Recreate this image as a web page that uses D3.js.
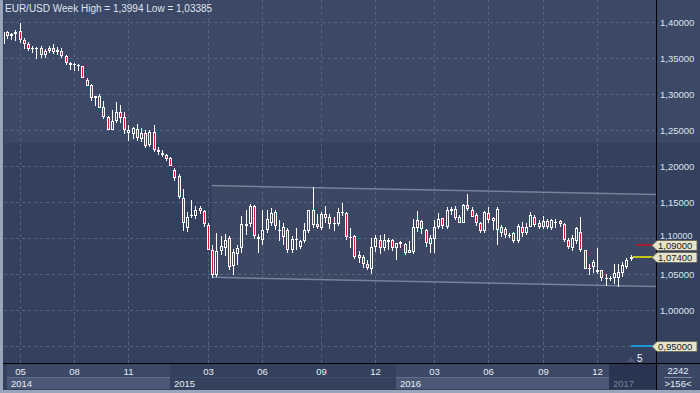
<!DOCTYPE html>
<html>
<head>
<meta charset="utf-8">
<script src="https://cdn.jsdelivr.net/npm/d3@7/dist/d3.min.js"></script>
<style>
html, body { margin: 0; padding: 0; background: #34415e; }
svg { display: block; font-family: "Liberation Sans", Arial, sans-serif; }
</style>
</head>
<body>
<svg id="chart" width="700" height="393"></svg>
<script>
// weekly EUR/USD candles (index 0 = first visible week, Apr 2014)
var opens = [1.3700,1.3861,1.3805,1.3833,1.3875,1.3750,1.3694,1.3632,1.3638,1.3645,
  1.3543,1.3605,1.3645,1.3611,1.3600,1.3535,1.3428,1.3422,1.3400,1.3389,
  1.3194,1.3130,1.2954,1.2981,1.2824,1.2685,1.2509,1.2630,1.2750,1.2685,
  1.2456,1.2454,1.2519,1.2380,1.2463,1.2296,1.2472,1.2231,1.2185,1.2157,
  1.2111,1.1954,1.1870,1.1565,1.1139,1.1306,1.1315,1.1417,1.1380,1.1185,
  1.0833,1.0491,1.0824,1.0861,1.1009,1.0611,1.0787,1.0861,1.1176,1.1204,
  1.1454,1.1019,1.0981,1.1120,1.1213,1.1370,1.1111,1.1019,1.1120,1.0833,
  1.0991,1.0880,1.0963,1.1102,1.1398,1.1194,1.1139,1.1343,1.1301,1.1194,
  1.1194,1.1350,1.1356,1.1023,1.1032,1.0722,1.0741,1.0648,1.0579,1.0877,
  1.0977,1.0861,1.0977,1.0977,1.0861,1.0954,1.0921,1.0792,1.0815,1.1139,
  1.1241,1.1116,1.0921,1.0991,1.1162,1.1278,1.1153,1.1384,1.1403,1.1301,
  1.1218,1.1463,1.1394,1.1324,1.1218,1.1106,1.1356,1.1278,1.1116,1.1153,
  1.1125,1.1046,1.1069,1.0968,1.1162,1.1079,1.1162,1.1301,1.1208,1.1153,
  1.1245,1.1139,1.1231,1.1236,1.1199,1.0977,1.0861,1.0968,1.1093,1.0838,
  1.0593,1.0597,1.0532,1.0555,1.0450,1.0445,1.0444,1.0453,1.0514,1.0597,
  1.0708];
var highs = [1.3880,1.3880,1.3847,1.3894,1.3994,1.3778,1.3731,1.3676,1.3660,1.3667,
  1.3630,1.3667,1.3694,1.3657,1.3639,1.3546,1.3454,1.3435,1.3417,1.3398,
  1.3222,1.3148,1.2981,1.3000,1.2907,1.2704,1.2787,1.2889,1.2852,1.2759,
  1.2574,1.2546,1.2593,1.2537,1.2509,1.2500,1.2574,1.2269,1.2222,1.2176,
  1.2130,1.1981,1.1889,1.1685,1.1370,1.1537,1.1444,1.1454,1.1398,1.1213,
  1.0907,1.1074,1.1028,1.1056,1.1037,1.0852,1.0907,1.1306,1.1398,1.1481,
  1.1460,1.1056,1.1389,1.1398,1.1426,1.1398,1.1250,1.1213,1.1139,1.1028,
  1.1139,1.0981,1.1213,1.1398,1.1713,1.1343,1.1361,1.1449,1.1338,1.1292,
  1.1417,1.1490,1.1370,1.1139,1.1046,1.0824,1.0769,1.0699,1.1000,1.1046,
  1.1046,1.1060,1.1000,1.0991,1.0940,1.0968,1.0931,1.0965,1.1264,1.1384,
  1.1255,1.1125,1.1046,1.1255,1.1347,1.1285,1.1440,1.1440,1.1449,1.1324,
  1.1472,1.1616,1.1440,1.1356,1.1231,1.1384,1.1440,1.1301,1.1440,1.1185,
  1.1153,1.1069,1.1093,1.1194,1.1231,1.1208,1.1361,1.1324,1.1255,1.1315,
  1.1269,1.1264,1.1269,1.1255,1.1208,1.1000,1.1046,1.1153,1.1292,1.0840,
  1.0644,1.0699,1.0870,1.0560,1.0500,1.0470,1.0650,1.0640,1.0666,1.0720,
  1.0764];
var lows = [1.3694,1.3787,1.3769,1.3759,1.3731,1.3645,1.3611,1.3593,1.3503,1.3520,
  1.3520,1.3583,1.3575,1.3565,1.3519,1.3417,1.3352,1.3343,1.3343,1.3222,
  1.3111,1.2917,1.2852,1.2806,1.2667,1.2500,1.2500,1.2611,1.2611,1.2463,
  1.2361,1.2389,1.2370,1.2352,1.2269,1.2278,1.2213,1.2167,1.2139,1.2093,
  1.2000,1.1815,1.1565,1.1120,1.1102,1.1296,1.1278,1.1352,1.1176,1.0833,
  1.0463,1.0472,1.0787,1.0769,1.0574,1.0509,1.0639,1.0815,1.1056,1.1176,
  1.1009,1.0815,1.0917,1.1083,1.1185,1.1130,1.0972,1.0917,1.0815,1.0806,
  1.0852,1.0861,1.0944,1.1093,1.1157,1.1139,1.1130,1.1231,1.1139,1.1116,
  1.1185,1.1330,1.0991,1.0884,1.0722,1.0667,1.0606,1.0570,1.0514,1.0829,
  1.0792,1.0838,1.0852,1.0838,1.0708,1.0880,1.0782,1.0790,1.0801,1.1100,
  1.1067,1.0890,1.0815,1.0815,1.1140,1.1144,1.1144,1.1338,1.1269,1.1208,
  1.1208,1.1394,1.1292,1.1185,1.1093,1.1093,1.1231,1.1130,1.0921,1.1037,
  1.1023,1.1023,1.0944,1.0954,1.1037,1.1060,1.1153,1.1176,1.1139,1.1139,
  1.1148,1.1130,1.1153,1.1171,1.0968,1.0861,1.0838,1.0940,1.0829,1.0569,
  1.0505,1.0537,1.0514,1.0421,1.0352,1.0420,1.0380,1.03385,1.0481,1.0585,
  1.0699];
var closes = [1.3870,1.3806,1.3835,1.3861,1.3750,1.3694,1.3630,1.3638,1.3645,1.3543,
  1.3605,1.3645,1.3592,1.3585,1.3528,1.3428,1.3412,1.3400,1.3405,1.3231,
  1.3120,1.2944,1.2972,1.2815,1.2685,1.2509,1.2630,1.2750,1.2667,1.2509,
  1.2498,1.2528,1.2389,1.2463,1.2278,1.2472,1.2222,1.2194,1.2157,1.2102,
  1.2009,1.1833,1.1574,1.1213,1.1296,1.1324,1.1389,1.1380,1.1194,1.0843,
  1.0491,1.0824,1.0898,1.0981,1.0602,1.0815,1.0870,1.1204,1.1204,1.1454,
  1.1028,1.0991,1.1111,1.1269,1.1352,1.1167,1.1120,1.1157,1.0833,1.0991,
  1.0975,1.0963,1.1120,1.1398,1.1185,1.1157,1.1343,1.1287,1.1194,1.1208,
  1.1370,1.1370,1.1014,1.1000,1.0741,1.0769,1.0648,1.0593,1.0877,1.1000,
  1.0861,1.0977,1.0954,1.0861,1.0931,1.0921,1.0792,1.0838,1.1162,1.1255,
  1.1125,1.0931,1.1000,1.1162,1.1269,1.1171,1.1394,1.1403,1.1278,1.1218,
  1.1463,1.1403,1.1301,1.1208,1.1106,1.1370,1.1255,1.1245,1.1403,1.1069,
  1.1046,1.1030,1.0968,1.1171,1.1069,1.1162,1.1324,1.1185,1.1153,1.1245,
  1.1162,1.1255,1.1224,1.1199,1.0977,1.0875,1.1000,1.1139,1.0838,1.0579,
  1.0579,1.0676,1.0560,1.0444,1.0455,1.0452,1.0518,1.0528,1.0629,1.0699,
  1.0740];

var monthLabels = ["05","08","11","03","06","09","12","03","06","09","12"];
var monthIdx    = [4, 17, 30, 49, 62, 76, 89, 103, 116, 129, 142];
var yearLabels  = ["2014","2015","2016","2017"];
var yearIdx     = [0, 40, 94, 145];
var priceTicks  = [1.00,1.05,1.10,1.15,1.20,1.25,1.30,1.35,1.40];
var gridTicks   = [0.95,1.00,1.05,1.10,1.15,1.20,1.25,1.30,1.35,1.40];
var markerValues = [1.09, 1.074, 0.95];
var markerColors = ["#a3202c", "#f2f200", "#1c98d8"];
var markerStart  = [151.2, 150.4, 150.0];
var channelIdx   = [49.8, 156];
var channelUpper = [1.1733, 1.1608];
var channelLower = [1.0458, 1.0330];
var shadeFrom = 1.2324;   // lighter zone above this level
var titleText = "EUR/USD Week High = 1,3994 Low = 1,03385";

var W = 700, H = 393;
var plotL = 4, plotR = 656, plotB = 363;

var x = d3.scaleLinear().domain([0, 150]).range([3.4, 631.15]);
var y = d3.scaleLinear().domain([0.95, 1.40]).range([346.3, 22.3]);
var fmt = function(v) { return d3.format(".5f")(v).replace(".", ","); };

var svg = d3.select("#chart");

svg.append("rect").attr("width", W).attr("height", H).attr("fill", "#34415e");
svg.append("rect").attr("x", plotL).attr("y", 0).attr("width", W - plotL)
   .attr("height", Math.round(y(shadeFrom))).attr("fill", "#3c4966");

svg.append("defs").append("clipPath").attr("id", "plotClip")
   .append("rect").attr("x", plotL).attr("y", 0).attr("width", plotR - plotL).attr("height", plotB);

var plot = svg.append("g").attr("clip-path", "url(#plotClip)");

// channel shading
var chPts = [[x(channelIdx[0]), y(channelUpper[0])], [x(channelIdx[1]), y(channelUpper[1])],
             [x(channelIdx[1]), y(channelLower[1])], [x(channelIdx[0]), y(channelLower[0])]];
plot.append("polygon").attr("points", chPts.map(function(p) { return p.join(","); }).join(" "))
    .attr("fill", "#ffffff").attr("fill-opacity", 0.035);

// grid
var grid = plot.append("g").attr("stroke", "#56647f").attr("stroke-dasharray", "3,3")
    .attr("shape-rendering", "crispEdges");
gridTicks.forEach(function(v) {
  var yy = Math.round(y(v)) + 0.5;
  grid.append("line").attr("x1", plotL).attr("x2", plotR).attr("y1", yy).attr("y2", yy);
});
monthIdx.forEach(function(i) {
  var xx = Math.floor(x(i)) + 0.5;
  grid.append("line").attr("x1", xx).attr("x2", xx).attr("y1", 0).attr("y2", plotB);
});

// channel lines
[channelUpper, channelLower].forEach(function(c) {
  plot.append("line").attr("x1", x(channelIdx[0])).attr("y1", y(c[0]))
      .attr("x2", x(channelIdx[1])).attr("y2", y(c[1]))
      .attr("stroke", "#8592aa").attr("stroke-width", 1.5).attr("stroke-opacity", 0.8);
});

// candles
var candles = d3.range(opens.length).map(function(i) {
  return { i: i, o: opens[i], h: highs[i], l: lows[i], c: closes[i] };
});
var cg = plot.append("g").attr("shape-rendering", "crispEdges");
candles.forEach(function(d) {
  var left = Math.floor(x(d.i)) - 1;
  var wx = left + 1.5;
  var top = Math.round(y(Math.max(d.o, d.c)));
  var bot = Math.round(y(Math.min(d.o, d.c)));
  var hy = Math.round(y(d.h)), ly = Math.round(y(d.l));
  var up = d.c >= d.o;
  if (hy < top) cg.append("line").attr("x1", wx).attr("x2", wx).attr("y1", hy).attr("y2", top).attr("stroke", "#fff");
  if (ly > bot) cg.append("line").attr("x1", wx).attr("x2", wx).attr("y1", bot).attr("y2", ly + 1).attr("stroke", "#fff");
  if (bot - top < 3) {
    cg.append("rect").attr("x", left).attr("y", top).attr("width", 3)
      .attr("height", Math.max(bot - top, 1)).attr("fill", "#fff");
  } else {
    cg.append("rect").attr("x", left + 0.5).attr("y", top + 0.5).attr("width", 2)
      .attr("height", bot - top - 1)
      .attr("fill", up ? "none" : "#e3112e").attr("stroke", "#fff");
  }
});

// price marker lines
markerValues.forEach(function(v, k) {
  var yy = Math.round(y(v));
  plot.append("line").attr("x1", x(markerStart[k])).attr("x2", plotR).attr("y1", yy).attr("y2", yy)
      .attr("stroke", markerColors[k]).attr("stroke-width", k === 1 ? 1.5 : 2);
});

// small "5" marker
plot.append("path").attr("d", "M627,362 L631,357 L635,362 Z").attr("fill", "#4d586f");
svg.append("text").attr("x", 637).attr("y", 362).attr("fill", "#eef2f8")
   .attr("font-size", 10).text("5");

// time axis background
var axG = svg.append("g").attr("shape-rendering", "crispEdges");
axG.append("rect").attr("x", plotL).attr("y", plotB).attr("width", plotR - plotL).attr("height", 26).attr("fill", "#34415d");
yearIdx.forEach(function(i, k) {
  var x0 = Math.max(Math.round(x(i)) - 1, 7);
  var x1 = k < yearIdx.length - 1 ? Math.round(x(yearIdx[k + 1])) - 1 : plotR;
  var last = k === yearIdx.length - 1;
  var even = k % 2 === 0;
  if (last) {
    axG.append("rect").attr("x", x0).attr("y", plotB + 1).attr("width", x1 - x0).attr("height", 25).attr("fill", "#293550");
  } else if (even) {
    axG.append("rect").attr("x", x0).attr("y", plotB + 1).attr("width", x1 - x0).attr("height", 13).attr("fill", "#3c4966");
    axG.append("rect").attr("x", x0).attr("y", 377).attr("width", x1 - x0).attr("height", 12).attr("fill", "#4a5876");
    axG.append("line").attr("x1", x0).attr("x2", x1).attr("y1", 377.5).attr("y2", 377.5).attr("stroke", "#5f6e8a");
  } else {
    axG.append("line").attr("x1", x0).attr("x2", x1).attr("y1", 377.5).attr("y2", 377.5).attr("stroke", "#3d4a66");
  }
  svg.append("text").attr("x", x0 + 4).attr("y", 386.5).attr("font-size", 9.5)
     .attr("fill", last ? "#75829a" : "#e6ebf3").text(yearLabels[k]);
});
monthIdx.forEach(function(i, k) {
  svg.append("text").attr("x", Math.floor(x(i)) + 0.5).attr("y", 374.5).attr("text-anchor", "middle")
     .attr("font-size", 9.5).attr("fill", "#e6ebf3").text(monthLabels[k]);
});

// corner box
svg.append("rect").attr("x", plotR + 1).attr("y", plotB + 1).attr("width", W - plotR - 1).attr("height", 25).attr("fill", "#3a4764");
svg.append("text").attr("x", 678).attr("y", 374).attr("text-anchor", "middle").attr("font-size", 9.5)
   .attr("fill", "#e6ebf3").text("2242");
svg.append("line").attr("x1", 664).attr("x2", 692).attr("y1", 377.5).attr("y2", 377.5).attr("stroke", "#7d8aa2");
svg.append("text").attr("x", 678).attr("y", 387).attr("text-anchor", "middle").attr("font-size", 9.5)
   .attr("fill", "#e6ebf3").text(">156<");

// separators
svg.append("line").attr("x1", 0).attr("x2", W).attr("y1", plotB + 0.5).attr("y2", plotB + 0.5).attr("stroke", "#000");
svg.append("line").attr("x1", plotR + 0.5).attr("x2", plotR + 0.5).attr("y1", 0).attr("y2", H).attr("stroke", "#000");

// price axis labels (1,10000 sits just above the 1,09000 tag)
priceTicks.forEach(function(v) {
  var yy = Math.round(y(v)) + 4;
  var fs = 9.5;
  if (Math.abs(v - 1.10) < 1e-9) { yy -= 3; fs = 9; }
  svg.append("text").attr("x", 660).attr("y", yy).attr("font-size", fs)
     .attr("fill", "#dde3ee").text(fmt(v));
});

// price tags
markerValues.forEach(function(v) {
  var yy = Math.round(y(v)) + 0.5;
  svg.append("path")
     .attr("d", "M" + 652 + "," + yy + " L657," + (yy - 5) + " L697," + (yy - 5) + " L697," + (yy + 5) + " L657," + (yy + 5) + " Z")
     .attr("fill", "#e7e4cd").attr("stroke", "#6b6b60").attr("stroke-width", 1);
  svg.append("text").attr("x", 658).attr("y", yy + 3.5).attr("font-size", 9.5)
     .attr("fill", "#1c1c1c").text(fmt(v));
});

// frame strips
svg.append("rect").attr("x", 0).attr("y", 0).attr("width", 3).attr("height", H).attr("fill", "#98a5bb");
svg.append("rect").attr("x", 0).attr("y", 390).attr("width", W).attr("height", 3).attr("fill", "#98a5bb");

// title
svg.append("text").attr("x", 5).attr("y", 12).attr("font-size", 10).attr("fill", "#dfe4ee").text(titleText);
</script>
</body>
</html>
